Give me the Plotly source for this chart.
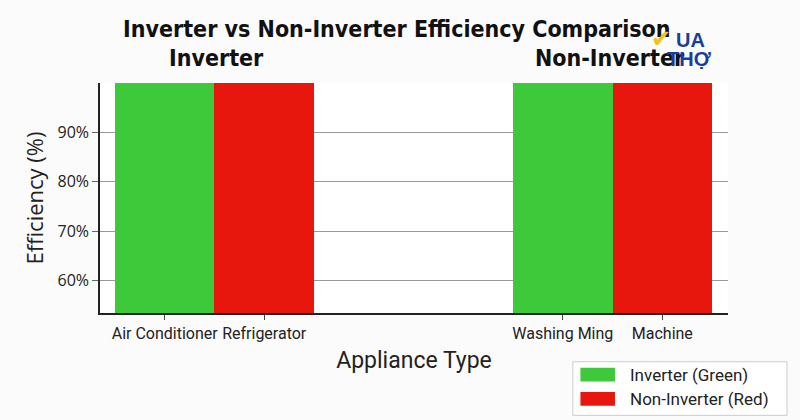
import plotly.graph_objects as go

categories = ["Air Conditioner", "Refrigerator", " ", "  ", "Washing Ming", "Machine"]
label_cats = ["Air Conditioner", "Refrigerator", "Washing Ming", "Machine"]
inverter_cats = ["Air Conditioner", "Washing Ming"]
inverter_vals = [100, 100]
noninv_cats = ["Refrigerator", "Machine"]
noninv_vals = [100, 100]
ytick_vals = [60, 70, 80, 90, 100]
ytick_text = ["60%", "70%", "80%", "90%", ""]
series_names = ["Inverter (Green)", "Non-Inverter (Red)"]
series_colors = ["#3ec93a", "#e8170e"]

NARROW = "Liberation Sans Narrow, DejaVu Sans Condensed, Roboto, sans-serif"

fig = go.Figure()
fig.add_trace(go.Bar(x=inverter_cats, y=inverter_vals, name=series_names[0],
                     marker=dict(color=series_colors[0], line=dict(width=0)), showlegend=False))
fig.add_trace(go.Bar(x=noninv_cats, y=noninv_vals, name=series_names[1],
                     marker=dict(color=series_colors[1], line=dict(width=0)), showlegend=False))

fig.update_layout(
    width=800, height=420,
    margin=dict(l=100, r=72, t=83, b=107),
    paper_bgcolor="#fbfbfb", plot_bgcolor="#ffffff",
    barmode="overlay", bargap=0,
    font=dict(family="Roboto", color="#111"),
    title=dict(text="<b>Inverter vs Non-Inverter Efficiency Comparison</b>",
               font=dict(family=NARROW, size=23, color="#111"),
               x=0.496, xanchor="center", y=0.93, yanchor="middle"),
)
fig.update_xaxes(categoryorder="array", categoryarray=categories,
                 tickmode="array", tickvals=label_cats, ticktext=label_cats,
                 tickangle=0, automargin=False,
                 range=[-0.65, 5.66], showline=True, linecolor="#222", linewidth=1.5,
                 ticks="outside", ticklen=5, tickcolor="#444",
                 tickfont=dict(family="Roboto", size=16, color="#222"),
                 title=dict(text="Appliance Type", font=dict(family="Roboto", size=23, color="#222"), standoff=10),
                 showgrid=False)
fig.update_yaxes(range=[53.5, 99.9], tickvals=ytick_vals, ticktext=ytick_text,
                 automargin=False,
                 showline=True, linecolor="#222", linewidth=1.5,
                 ticks="outside", ticklen=6, tickcolor="#666",
                 showgrid=True, gridcolor="#9a9a9a", gridwidth=1,
                 tickfont=dict(family="Open Sans", size=16, color="#222"),
                 title=dict(text="Efficiency (%)", font=dict(family="Open Sans", size=22, color="#222"), standoff=8),
                 zeroline=False)

# group subtitles
fig.add_annotation(text="<b>Inverter</b>", xref="paper", yref="paper", x=0.107, y=1.109,
                   xanchor="left", yanchor="middle", showarrow=False,
                   font=dict(family=NARROW, size=23, color="#111"))
fig.add_annotation(text="<b>Non-Inverter</b>", xref="paper", yref="paper", x=0.689, y=1.109,
                   xanchor="left", yanchor="middle", showarrow=False,
                   font=dict(family=NARROW, size=23, color="#111"))

# custom legend
fig.add_shape(type="rect", xref="paper", yref="paper", x0=0.753, x1=1.094, y0=-0.445, y1=-0.212,
              line=dict(color="#cccccc", width=1), fillcolor="#ffffff", layer="above")
for i, (nm, col) in enumerate(zip(series_names, series_colors)):
    yc = -0.268 - i * 0.105
    fig.add_shape(type="rect", xref="paper", yref="paper", x0=0.765, x1=0.82, y0=yc - 0.03, y1=yc + 0.03,
                  fillcolor=col, line=dict(width=0), layer="above")
    fig.add_annotation(text=nm, xref="paper", yref="paper", x=0.84, y=yc, xanchor="left", yanchor="middle",
                       showarrow=False, font=dict(family="Roboto", size=17, color="#222"))

# watermark logo
fig.add_annotation(text="<b>✔</b>", xref="paper", yref="paper", x=0.893, y=1.19, xanchor="center", yanchor="middle",
                   showarrow=False, font=dict(family="DejaVu Sans", size=24, color="#f2c21b"))
fig.add_annotation(text="<b>UA</b>", xref="paper", yref="paper", x=0.914, y=1.187, xanchor="left", yanchor="middle",
                   showarrow=False, font=dict(family="Liberation Sans", size=20, color="#1a3d9c"))
fig.add_annotation(text="<b>THỢ</b>", xref="paper", yref="paper", x=0.9, y=1.105, xanchor="left", yanchor="middle",
                   showarrow=False, font=dict(family="Liberation Sans", size=20, color="#1a3d9c"))

fig.write_html("out.html")
